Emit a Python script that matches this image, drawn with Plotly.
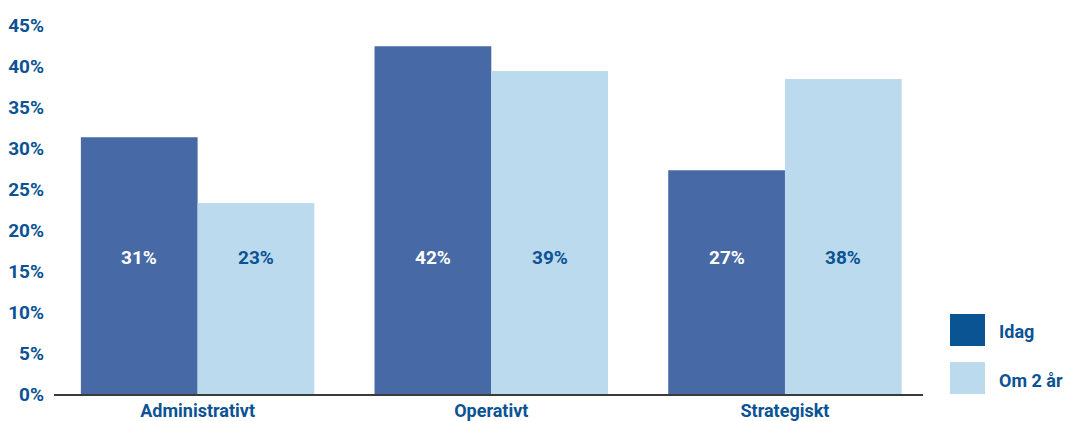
import plotly.graph_objects as go

# Chart data
categories = ["Administrativt", "Operativt", "Strategiskt"]
idag = [31.3, 42.4, 27.3]
om_2_ar = [23.3, 39.4, 38.4]
series_names = ["Idag", "Om 2 år"]
y_ticks = [0, 5, 10, 15, 20, 25, 30, 35, 40, 45]
y_tick_labels = [f"{v}%" for v in y_ticks]

# Styling
FONT = "Roboto, Arial, sans-serif"
TEXT_BLUE = "#0B5394"
BAR_DARK = "#4769A6"
BAR_LIGHT = "#BBDAEE"
LEGEND_DARK = "#0B5494"
LABEL_LEVEL = 16.6  # height (in %) where the value labels sit


def font(size=19, color=TEXT_BLUE):
    return dict(family=FONT, size=size, color=color, weight=700)


fig = go.Figure()
fig.add_trace(go.Bar(x=categories, y=idag, name=series_names[0],
                     marker=dict(color=BAR_DARK, line=dict(width=0)),
                     showlegend=False, hoverinfo="skip"))
fig.add_trace(go.Bar(x=categories, y=om_2_ar, name=series_names[1],
                     marker=dict(color=BAR_LIGHT, line=dict(width=0)),
                     showlegend=False, hoverinfo="skip"))

# Value labels, all on one level inside the bars
L, R, T, B = 54, 142, 25, 27
plot_w = 1065 - L - R
x_range = [-0.489, 2.470]
unit_px = plot_w / (x_range[1] - x_range[0])
bargap = 0.205
half_bar = unit_px * (1 - bargap) / 4
for cat, v1, v2 in zip(categories, idag, om_2_ar):
    fig.add_annotation(x=cat, y=LABEL_LEVEL, text=f"{v1:.0f}%", showarrow=False,
                       xshift=-half_bar, font=font(color="white"))
    fig.add_annotation(x=cat, y=LABEL_LEVEL, text=f"{v2:.0f}%", showarrow=False,
                       xshift=half_bar, font=font())

# Legend with large square swatches
plot_h = 421 - T - B


def px_x(p):
    return (p - L) / plot_w


def px_y(p):
    return (421 - B - p) / plot_h


legend_items = [(series_names[0], LEGEND_DARK, 314, 346, 331),
                (series_names[1], BAR_LIGHT, 362, 394, 380)]
for name, color, top, bottom, mid in legend_items:
    fig.add_shape(type="rect", xref="paper", yref="paper",
                  x0=px_x(950), x1=px_x(985), y0=px_y(bottom), y1=px_y(top),
                  fillcolor=color, line=dict(width=0))
    fig.add_annotation(xref="paper", yref="paper", x=px_x(997), y=px_y(mid),
                       xanchor="left", yanchor="middle", text=name, showarrow=False,
                       font=font(size=18))

fig.update_layout(
    width=1065, height=421,
    margin=dict(l=L, r=R, t=T, b=B),
    paper_bgcolor="white", plot_bgcolor="white",
    barmode="group", bargap=bargap, bargroupgap=0,
    font=dict(family=FONT, color=TEXT_BLUE),
    xaxis=dict(range=x_range, showgrid=False, zeroline=False, automargin=False,
               showline=True, linecolor="#3a3a3a", linewidth=1.5,
               ticks="", ticklabelstandoff=0,
               tickfont=font(size=18)),
    yaxis=dict(range=[0, 45], tickvals=y_ticks, ticktext=y_tick_labels,
               showgrid=False, zeroline=False, showline=False, ticks="",
               automargin=False, ticklabelstandoff=9,
               tickfont=font()),
)

fig.write_html("out.html")
